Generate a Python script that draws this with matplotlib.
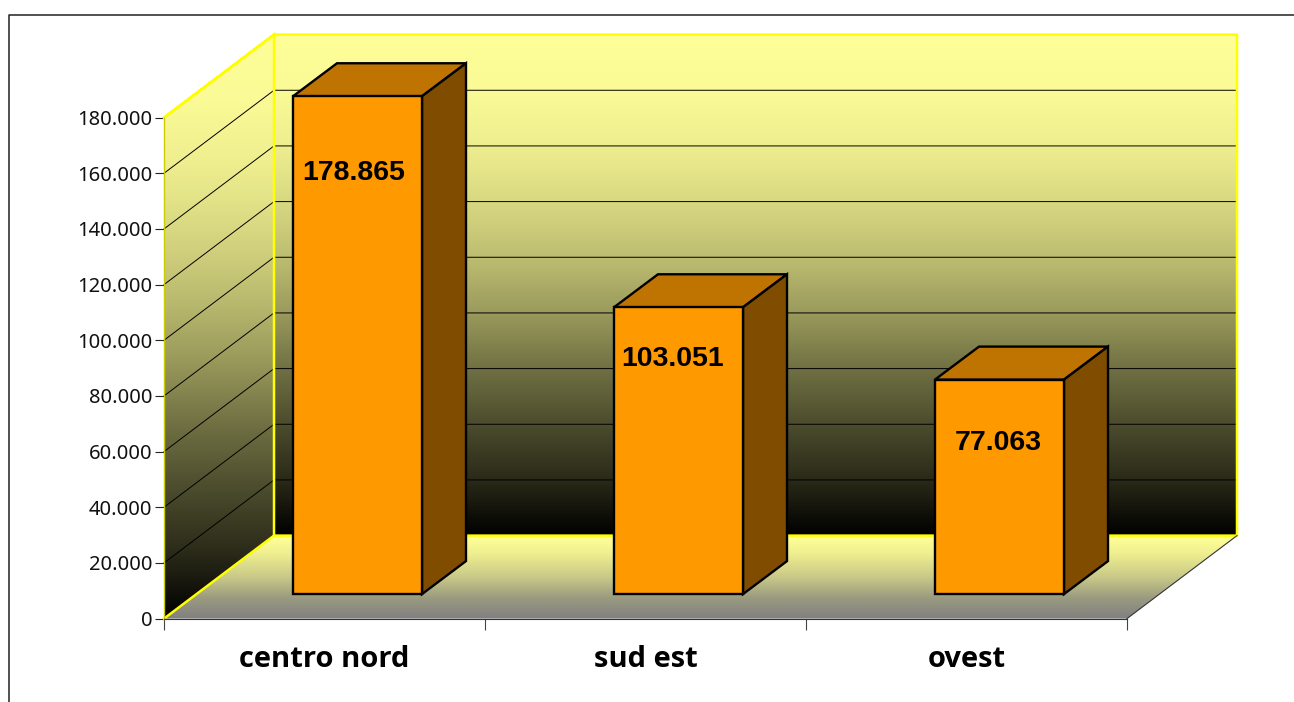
import numpy as np
import matplotlib
matplotlib.use("Agg")
import matplotlib.pyplot as plt
from matplotlib.colors import LinearSegmentedColormap
from matplotlib.patches import Polygon
from matplotlib.lines import Line2D
from matplotlib.ticker import FuncFormatter

categories = ["centro nord", "sud est", "ovest"]
values = [178865, 103051, 77063]
value_labels = ["178.865", "103.051", "77.063"]
label_y = [160100, 93300, 63000]
label_x = [0.59, 1.585, 2.6]
y_ticks = [0, 20000, 40000, 60000, 80000, 100000, 120000, 140000, 160000, 180000]

W, H = 1294, 702
PX_X = 321.0                 # pixels per category
PX_Y = 501.0 / 180000        # pixels per unit
X0, Y0 = 164, 618.6          # pixel position of the origin

DEPTH_X = 110 / PX_X
DEPTH_Y = 83 / PX_Y
BAR_W = 129 / PX_X
BAR_DX = 33 / PX_X
BAR_DY = 24.5 / PX_Y
BAR_DEPTH_X = 44 / PX_X
BAR_DEPTH_Y = 33 / PX_Y
YMAX = y_ticks[-1]
NCAT = len(categories)

fig = plt.figure(figsize=(W / 100, H / 100), dpi=100, facecolor="white")
ax = fig.add_axes([0, 0, 1, 1], facecolor="none")
xlim = (-X0 / PX_X, (W - X0) / PX_X)
ylim = (-(H - Y0) / PX_Y, Y0 / PX_Y)

wall_cmap = LinearSegmentedColormap.from_list("wall", [
    "#FFFF99", "#FAFA96", "#EEEE8F", "#D8D882", "#BDBD71",
    "#9A9A5C", "#707043", "#4C4C2E", "#2A2A19", "#000000"])
floor_cmap = LinearSegmentedColormap.from_list("floor", [
    (0, "#FFFF99"), (0.2, "#F0F090"), (0.5, "#C8C888"), (0.75, "#9A9A80"), (1, "#808080")])
grad = np.linspace(0, 1, 256).reshape(-1, 1)


def shaded(poly, cmap, extent):
    im = ax.imshow(grad, cmap=cmap, extent=extent, aspect="auto", origin="upper",
                   zorder=1, interpolation="bilinear")
    clip = Polygon(poly, closed=True, transform=ax.transData, facecolor="none", edgecolor="none")
    ax.add_patch(clip)
    im.set_clip_path(clip)


back = [(DEPTH_X, DEPTH_Y), (NCAT + DEPTH_X, DEPTH_Y), (NCAT + DEPTH_X, YMAX + DEPTH_Y), (DEPTH_X, YMAX + DEPTH_Y)]
left = [(0, 0), (DEPTH_X, DEPTH_Y), (DEPTH_X, YMAX + DEPTH_Y), (0, YMAX)]
floor = [(0, 0), (NCAT, 0), (NCAT + DEPTH_X, DEPTH_Y), (DEPTH_X, DEPTH_Y)]

shaded(back, wall_cmap, (DEPTH_X, NCAT + DEPTH_X, DEPTH_Y, YMAX + DEPTH_Y))
shaded(left, wall_cmap, (0, DEPTH_X, 0, YMAX + DEPTH_Y))
shaded(floor, floor_cmap, (0, NCAT + DEPTH_X, 0, DEPTH_Y))

# gridlines on both walls
for v in y_ticks[1:-1]:
    ax.plot([0, DEPTH_X, NCAT + DEPTH_X], [v, v + DEPTH_Y, v + DEPTH_Y], color="black", lw=0.7, zorder=2)

# yellow wall outline
ax.plot([0, DEPTH_X, DEPTH_X, NCAT + DEPTH_X, NCAT + DEPTH_X, DEPTH_X, DEPTH_X, 0],
        [YMAX, YMAX + DEPTH_Y, DEPTH_Y, DEPTH_Y, YMAX + DEPTH_Y, YMAX + DEPTH_Y, YMAX + DEPTH_Y, YMAX],
        color="#FFFF00", lw=1.8, zorder=3, solid_joinstyle="miter")
ax.plot([0, DEPTH_X], [0, DEPTH_Y], color="#FFFF00", lw=1.8, zorder=3)
ax.plot([0, 0], [0, YMAX], color="#CCCC00", lw=1.0, zorder=3)
ax.plot([NCAT, NCAT + DEPTH_X], [0, DEPTH_Y], color="#333333", lw=0.8, zorder=3)

# bars
centers = np.arange(NCAT) + 0.5 + BAR_DX
ax.bar(centers, values, width=BAR_W, bottom=BAR_DY, color="#FF9900", edgecolor="black", linewidth=1.7, zorder=5)
for c, v in zip(centers, values):
    l, r = c - BAR_W / 2, c + BAR_W / 2
    b, t = BAR_DY, BAR_DY + v
    top = [(l, t), (r, t), (r + BAR_DEPTH_X, t + BAR_DEPTH_Y), (l + BAR_DEPTH_X, t + BAR_DEPTH_Y)]
    side = [(r, b), (r + BAR_DEPTH_X, b + BAR_DEPTH_Y), (r + BAR_DEPTH_X, t + BAR_DEPTH_Y), (r, t)]
    ax.add_patch(Polygon(top, closed=True, facecolor="#BF7300", edgecolor="black", lw=1.7, zorder=4, joinstyle="miter"))
    ax.add_patch(Polygon(side, closed=True, facecolor="#804D00", edgecolor="black", lw=1.7, zorder=4, joinstyle="miter"))

for x, y, s in zip(label_x, label_y, value_labels):
    ax.text(x, y, s, ha="center", va="center", family="Liberation Sans", fontweight="bold",
            fontsize=20.5, color="black", zorder=6)

# axes and ticks
for side in ["top", "right"]:
    ax.spines[side].set_visible(False)
ax.spines["left"].set_position(("data", 0))
ax.spines["bottom"].set_position(("data", 0))
ax.spines["left"].set_bounds(0, 0)
ax.spines["bottom"].set_bounds(0, NCAT)
ax.spines["bottom"].set_color("#333333")
ax.spines["bottom"].set_zorder(4)

ax.set_yticks(y_ticks)
ax.yaxis.set_major_formatter(FuncFormatter(lambda v, p: f"{int(v):,}".replace(",", ".")))
ax.tick_params(axis="y", length=6.5, width=0.8, color="#222222", pad=2, labelsize=14.5, labelcolor="#111111")
for lab in ax.get_yticklabels():
    lab.set_family("Noto Sans")

ax.set_xticks(range(NCAT + 1))
ax.set_xticklabels([])
ax.set_xticks(np.arange(NCAT) + 0.5, categories, minor=True, family="Open Sans", fontweight="bold")
ax.tick_params(axis="x", which="major", length=8, width=0.8, color="#444444")
ax.tick_params(axis="x", which="minor", length=0, pad=19, labelsize=21)

ax.set_xlim(xlim)
ax.set_ylim(ylim)

# outer chart frame: only left and top edges fall inside the picture
fig.add_artist(Line2D([8.5 / W, 8.5 / W, 1], [0, 1 - 14.5 / H, 1 - 14.5 / H], transform=fig.transFigure,
                      color="#222222", lw=1.1))

fig.savefig("out.png", dpi=100)
